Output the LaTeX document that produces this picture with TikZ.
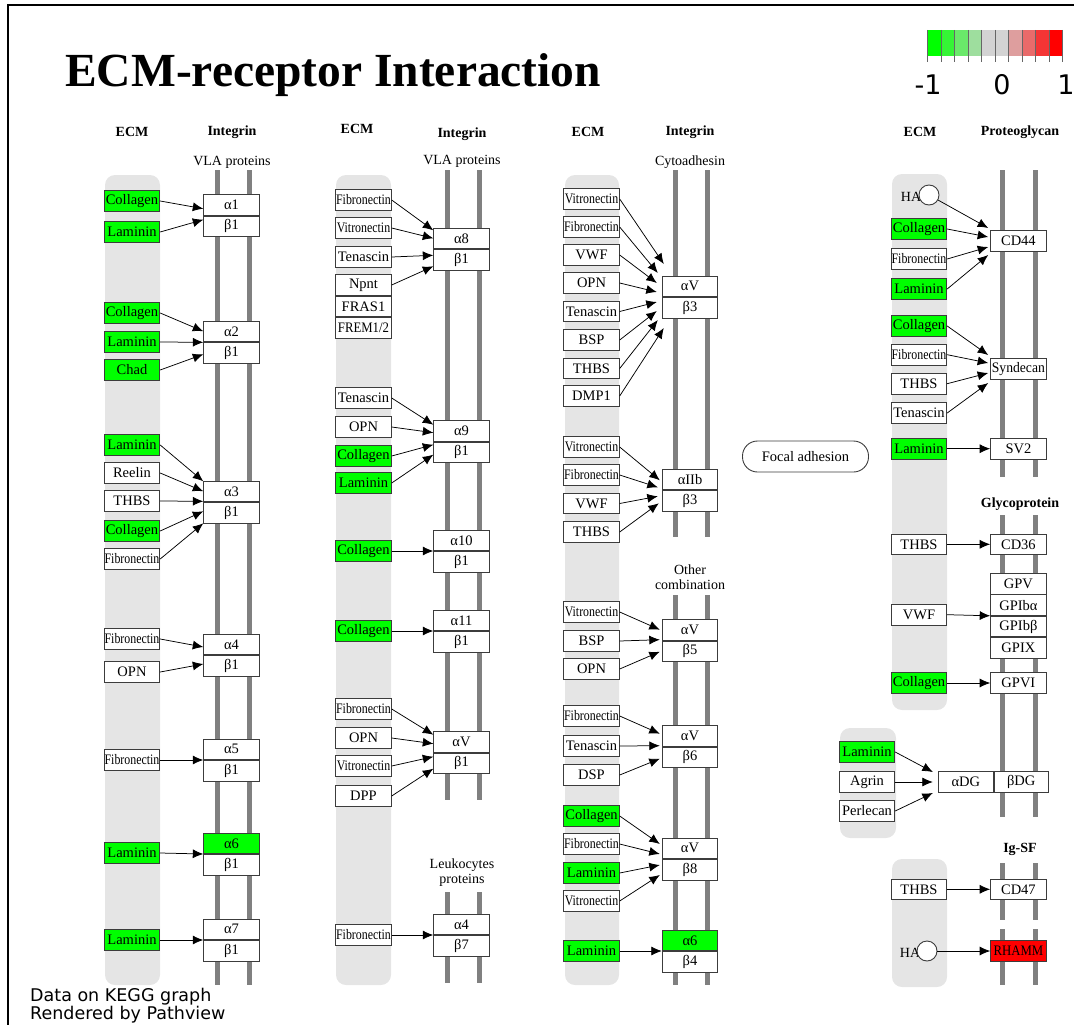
\documentclass[tikz,border=0pt]{standalone}
\usepackage{fontspec}
\setmainfont{Liberation Serif}
\newfontfamily\legendfont{DejaVu Sans}
\usepackage{graphicx}
\usetikzlibrary{positioning,arrows.meta,shapes.geometric}
\definecolor{bandgray}{RGB}{229,229,229}
\definecolor{membgray}{RGB}{128,128,128}
\definecolor{midgray}{RGB}{211,211,211}
\definecolor{boxline}{RGB}{60,60,60}
\newcommand{\kg}{\fontsize{14.5}{15}\selectfont}
\newcommand{\nar}[2][0.82]{\scalebox{#1}[1]{#2}}
\tikzset{
 ecm/.style
  = {rectangle, draw=boxline, line width=0.9pt, fill=white, minimum width=55.5pt,
     minimum height=20.5pt, inner sep=0pt, font=\kg},
 dn/.style
  = {ecm, fill=green},
 uprg/.style
  = {ecm, fill=red},
 intg/.style
  = {ecm},
 head/.style
  = {font=\fontsize{14}{14}\selectfont\bfseries, inner sep=0pt},
 sub/.style
  = {font=\fontsize{14}{15}\selectfont, inner sep=0pt},
 band/.style
  = {fill=bandgray, rounded corners=10pt},
 memb/.style
  = {draw=membgray, line width=5pt},
 arrow/.style
  = {draw=black, line width=0.75pt, -{Latex[length=10.5pt,width=9pt]}},
 hub/.style
  = {circle, draw=boxline, line width=0.9pt, fill=white, minimum size=20pt, inner sep=0pt},
 legtick/.style
  = {draw=black!60, line width=0.8pt},
}

\begin{document}
\begin{tikzpicture}[x=1pt,y=-1pt]
\useasboundingbox (0,0) rectangle (1074,1025);

% Frame and title
\draw[line width=1.2pt] (8,1025) -- (8,5) -- (1074,5);
\node[anchor=base west, inner sep=0pt, font=\fontsize{47.5}{47.5}\selectfont\bfseries] (title) at (65,86) {ECM-receptor Interaction};

% Colour key
\foreach \c [count=\i from 0] in {green, green!75!midgray, green!50!midgray, green!25!midgray, midgray, midgray, red!25!midgray, red!50!midgray, red!75!midgray, red}
  \fill[\c] (927.5+13.5*\i,30) rectangle ++(13.5,26);
\foreach \i in {0,...,10}
  \draw[legtick] (927.5+13.5*\i,30) -- ++(0,32);
\node[font=\legendfont\fontsize{27}{27}\selectfont] (kmin) at (928,85) {-1};
\node[font=\legendfont\fontsize{27}{27}\selectfont] (kmid) at (1002,85) {0};
\node[font=\legendfont\fontsize{27}{27}\selectfont] (kmax) at (1066,85) {1};

% Footer
\node[anchor=west, inner sep=0pt, font=\legendfont\fontsize{17.5}{17.5}\selectfont] (foot1) at (30,997) {Data on KEGG graph};
\node[anchor=west, inner sep=0pt, font=\legendfont\fontsize{17.5}{17.5}\selectfont] (foot2) at (30,1015) {Rendered by Pathview};

% Panel 1: VLA proteins
\fill[band] (105,175) rectangle (160,985);
\draw[memb] (217,170) -- (217,985);
\draw[memb] (249,170) -- (249,985);
\node[head] (h1e) at (132,132) {ECM};
\node[head] (h1i) at (232,132) {Integrin};
\node[sub] (vla1) at (232,162) {VLA proteins};

\node[dn] (c1a) at (132,201) {Collagen};
\node[dn] (c1b) at (132,232) {Laminin};
\node[dn] (c1c) at (132,313) {Collagen};
\node[dn] (c1d) at (132,342) {Laminin};
\node[dn] (c1e) at (132,370) {Chad};
\node[dn] (c1f) at (132,445) {Laminin};
\node[ecm] (c1g) at (132,473) {Reelin};
\node[ecm] (c1h) at (132,501) {THBS};
\node[dn] (c1i) at (132,531) {Collagen};
\node[ecm] (c1j) at (132,559) {\nar{Fibronectin}};
\node[ecm] (c1k) at (132,639) {\nar{Fibronectin}};
\node[ecm] (c1l) at (132,672) {OPN};
\node[ecm] (c1m) at (132,760) {\nar{Fibronectin}};
\node[dn] (c1n) at (132,853) {Laminin};
\node[dn] (c1o) at (132,940) {Laminin};

\node[intg, anchor=south] (al11) at (231.5,215.7) {α1};
\node[intg, below=0pt of al11] (be11) {β1};
\node[intg, anchor=south] (al21) at (231.5,342.3) {α2};
\node[intg, below=0pt of al21] (be21) {β1};
\node[intg, anchor=south] (al31) at (231.5,502.3) {α3};
\node[intg, below=0pt of al31] (be31) {β1};
\node[intg, anchor=south] (al41) at (231.5,655) {α4};
\node[intg, below=0pt of al41] (be41) {β1};
\node[intg, anchor=south] (al51) at (231.5,760) {α5};
\node[intg, below=0pt of al51] (be51) {β1};
\node[dn, anchor=south] (al61) at (231.5,854) {α6};
\node[intg, below=0pt of al61] (be61) {β1};
\node[intg, anchor=south] (al71) at (231.5,940) {α7};
\node[intg, below=0pt of al71] (be71) {β1};

\foreach \s/\t/\dy in {c1a/al11/7, c1b/al11/-4, c1c/al21/11, c1d/al21/0, c1e/al21/-12,
    c1f/al31/21, c1g/al31/11, c1h/al31/1, c1i/al31/-9, c1j/al31/-21,
    c1k/al41/8, c1l/al41/-9, c1m/al51/0, c1n/al61/0, c1o/al71/0}
  \draw[arrow] (\s.east) -- ([yshift=\dy pt]\t.south west);

% Panel 2: VLA proteins, leukocytes proteins
\fill[band] (336,175) rectangle (391,985);
\draw[memb] (447,170) -- (447,800);
\draw[memb] (479,170) -- (479,800);
\draw[memb] (447,892) -- (447,983);
\draw[memb] (479,892) -- (479,983);
\node[head] (h2e) at (357,129) {ECM};
\node[head] (h2i) at (462,134) {Integrin};
\node[sub] (vla2) at (462,161) {VLA proteins};
\node[sub, align=center] (leuk) at (462,873) {Leukocytes\\proteins};

\node[ecm] (c2a) at (363.5,200) {\nar{Fibronectin}};
\node[ecm] (c2b) at (363.5,228) {\nar{Vitronectin}};
\node[ecm] (c2c) at (363.5,257) {Tenascin};
\node[ecm] (c2d) at (363.5,285) {Npnt};
\node[ecm, below=0pt of c2d] (c2e) {FRAS1};
\node[ecm, below=0pt of c2e] (c2f) {\nar[0.88]{FREM1/2}};
\node[ecm] (c2g) at (363.5,398) {Tenascin};
\node[ecm] (c2h) at (363.5,427) {OPN};
\node[dn] (c2i) at (363.5,456) {Collagen};
\node[dn] (c2j) at (363.5,483) {Laminin};
\node[dn] (c2k) at (363.5,551) {Collagen};
\node[dn] (c2l) at (363.5,631) {Collagen};
\node[ecm] (c2m) at (363.5,709) {\nar{Fibronectin}};
\node[ecm] (c2n) at (363.5,738) {OPN};
\node[ecm] (c2o) at (363.5,766) {\nar{Vitronectin}};
\node[ecm] (c2p) at (363.5,796) {DPP};
\node[ecm] (c2q) at (363.5,935) {\nar{Fibronectin}};

\node[intg, anchor=south] (al81) at (461.5,249.3) {α8};
\node[intg, below=0pt of al81] (be81) {β1};
\node[intg, anchor=south] (al91) at (461.5,441.7) {α9};
\node[intg, below=0pt of al91] (be91) {β1};
\node[intg, anchor=south] (al101) at (461.5,551) {α10};
\node[intg, below=0pt of al101] (be101) {β1};
\node[intg, anchor=south] (al111) at (461.5,631) {α11};
\node[intg, below=0pt of al111] (be111) {β1};
\node[intg, anchor=south] (alV1) at (461.5,752.7) {αV};
\node[intg, below=0pt of alV1] (beV1) {β1};
\node[intg, anchor=south] (al47) at (461.5,935) {α4};
\node[intg, below=0pt of al47] (be47) {β7};

\foreach \s/\t/\dy in {c2a/al81/19, c2b/al81/11, c2c/al81/-6, c2d/al81/-17,
    c2g/al91/17, c2h/al91/9, c2i/al91/-3, c2j/al91/-13, c2k/al101/0, c2l/al111/0,
    c2m/alV1/18, c2n/alV1/9, c2o/alV1/-4, c2p/alV1/-16, c2q/al47/0}
  \draw[arrow] (\s.east) -- ([yshift=\dy pt]\t.south west);

% Panel 3: cytoadhesin, other combination
\fill[band] (565,175) rectangle (619,985);
\draw[memb] (675,170) -- (675,537);
\draw[memb] (707,170) -- (707,537);
\draw[memb] (675,595) -- (675,985);
\draw[memb] (707,595) -- (707,985);
\node[head] (h3e) at (588,132) {ECM};
\node[head] (h3i) at (690,132) {Integrin};
\node[sub] (cyto) at (690,162) {Cytoadhesin};
\node[sub, align=center] (other) at (690,577) {Other\\combination};

\node[ecm] (c3a) at (591.5,199) {\nar{Vitronectin}};
\node[ecm] (c3b) at (591.5,227) {\nar{Fibronectin}};
\node[ecm] (c3c) at (591.5,255) {VWF};
\node[ecm] (c3d) at (591.5,283) {OPN};
\node[ecm] (c3e) at (591.5,311.5) {Tenascin};
\node[ecm] (c3f) at (591.5,340) {BSP};
\node[ecm] (c3g) at (591.5,368.5) {THBS};
\node[ecm] (c3h) at (591.5,396) {DMP1};
\node[ecm] (c3i) at (591.5,447) {\nar{Vitronectin}};
\node[ecm] (c3j) at (591.5,475) {\nar{Fibronectin}};
\node[ecm] (c3k) at (591.5,503.5) {VWF};
\node[ecm] (c3l) at (591.5,532) {THBS};
\node[ecm] (c3m) at (591.5,612) {\nar{Vitronectin}};
\node[ecm] (c3n) at (591.5,641) {BSP};
\node[ecm] (c3o) at (591.5,669) {OPN};
\node[ecm] (c3p) at (591.5,716) {\nar{Fibronectin}};
\node[ecm] (c3q) at (591.5,746) {Tenascin};
\node[ecm] (c3r) at (591.5,775) {DSP};
\node[dn] (c3s) at (591.5,816) {Collagen};
\node[ecm] (c3t) at (591.5,844) {\nar{Fibronectin}};
\node[dn] (c3u) at (591.5,873) {Laminin};
\node[ecm] (c3v) at (591.5,901) {\nar{Vitronectin}};
\node[dn] (c3w) at (591.5,951) {Laminin};

\node[intg, anchor=south] (alV3) at (690,297) {αV};
\node[intg, below=0pt of alV3] (beV3) {β3};
\node[intg, anchor=south] (alIIb3) at (690,490.3) {αIIb};
\node[intg, below=0pt of alIIb3] (beIIb3) {β3};
\node[intg, anchor=south] (alV5) at (690,640.7) {αV};
\node[intg, below=0pt of alV5] (beV5) {β5};
\node[intg, anchor=south] (alV6) at (690,746.7) {αV};
\node[intg, below=0pt of alV6] (beV6) {β6};
\node[intg, anchor=south] (alV8) at (690,859) {αV};
\node[intg, below=0pt of alV8] (beV8) {β8};
\node[dn, anchor=south] (al64) at (690,951) {α6};
\node[intg, below=0pt of al64] (be64) {β4};

\foreach \s/\t/\dx/\dy in {c3a/alV3/2/33, c3b/alV3/-4/24, c3c/alV3/-5/14, c3d/alV3/-5/5,
    c3e/alV3/-5/-5, c3f/alV3/-5/-14, c3g/alV3/-4/-23, c3h/alV3/2/-31,
    c3i/alIIb3/-2/10, c3j/alIIb3/-4/3, c3k/alIIb3/-4/-6, c3l/alIIb3/-3/-13,
    c3m/alV5/-2/11, c3n/alV5/-2/1, c3o/alV5/-2/-11,
    c3p/alV6/-2/13, c3q/alV6/-2/1, c3r/alV6/-2/-12,
    c3s/alV8/-2/15, c3t/alV8/-2/5, c3u/alV8/-2/-6, c3v/alV8/-2/-16, c3w/al64/0/0}
  \draw[arrow] (\s.east) -- ([xshift=\dx pt, yshift=\dy pt]\t.south west);

% Focal adhesion link
\node[draw=boxline, line width=0.9pt, rounded corners=15pt, minimum width=126pt,
  minimum height=31pt, font=\kg] (focal) at (805.5,456.5) {Focal adhesion};

% Panel 4: proteoglycan, glycoprotein, Ig-SF
\fill[band] (892,174) rectangle (947,710);
\fill[band] (840,728) rectangle (896,838);
\fill[band] (892,859) rectangle (947,987);
\draw[memb] (1002.5,170) -- (1002.5,477);
\draw[memb] (1035,170) -- (1035,477);
\draw[memb] (1002.5,515) -- (1002.5,817);
\draw[memb] (1035,515) -- (1035,817);
\draw[memb] (1002.5,863) -- (1002.5,920);
\draw[memb] (1035,863) -- (1035,920);
\draw[memb] (1002.5,929) -- (1002.5,985);
\draw[memb] (1035,929) -- (1035,985);
\node[head] (h4e) at (920,132) {ECM};
\node[head] (h4p) at (1020,132) {Proteoglycan};
\node[head] (h4g) at (1020,504) {Glycoprotein};
\node[head] (h4s) at (1020,849) {Ig-SF};

\node[sub] (hatxt1) at (911,197) {HA};
\node[hub] (ha1) at (929,195) {};
\node[dn] (c4a) at (919,229) {Collagen};
\node[ecm] (c4b) at (919,259) {\nar{Fibronectin}};
\node[dn] (c4c) at (919,289) {Laminin};
\node[dn] (c4d) at (919,326) {Collagen};
\node[ecm] (c4e) at (919,354.7) {\nar{Fibronectin}};
\node[ecm] (c4f) at (919,383.7) {THBS};
\node[ecm] (c4g) at (919,413) {Tenascin};
\node[dn] (c4h) at (919,448.7) {Laminin};
\node[ecm] (c4i) at (919,544.3) {THBS};
\node[ecm] (c4j) at (919,614.7) {VWF};
\node[dn] (c4k) at (919,683) {Collagen};
\node[dn] (c4l) at (867,752) {Laminin};
\node[ecm] (c4m) at (867,782) {Agrin};
\node[ecm] (c4n) at (867,811) {Perlecan};
\node[ecm] (c4o) at (919,889.3) {THBS};
\node[sub] (hatxt2) at (910,953) {HA};
\node[hub] (ha2) at (927,951) {};

\node[ecm] (cd44) at (1018.4,241) {CD44};
\node[ecm] (synd) at (1018.4,369) {\nar[0.94]{Syndecan}};
\node[ecm] (sv2) at (1018.4,448.7) {SV2};
\node[ecm] (cd36) at (1018.4,544.3) {CD36};
\node[ecm] (gpv) at (1018.4,583.7) {GPV};
\node[ecm, below=0pt of gpv] (gpiba) {GPIbα};
\node[ecm, below=0pt of gpiba] (gpibb) {GPIbβ};
\node[ecm, below=0pt of gpibb] (gpix) {GPIX};
\node[ecm] (gpvi) at (1018.4,683) {GPVI};
\node[ecm, minimum width=55pt] (adg) at (965.8,782) {αDG};
\node[ecm, minimum width=54pt, right=0pt of adg] (bdg) {βDG};
\node[ecm] (cd47) at (1018.4,889.3) {CD47};
\node[uprg] (rhamm) at (1018.4,951) {\nar[0.88]{RHAMM}};

\draw[arrow] (ha1) -- ([xshift=-2pt, yshift=13pt]cd44.west);
\draw[arrow] (c4a.east) -- ([xshift=-2pt, yshift=4pt]cd44.west);
\draw[arrow] (c4b.east) -- ([xshift=-2pt, yshift=-6pt]cd44.west);
\draw[arrow] (c4c.east) -- ([xshift=-2pt, yshift=-14pt]cd44.west);
\draw[arrow] (c4d.east) -- ([xshift=-2pt, yshift=14pt]synd.west);
\draw[arrow] (c4e.east) -- ([xshift=-2pt, yshift=6pt]synd.west);
\draw[arrow] (c4f.east) -- ([xshift=-2pt, yshift=-4pt]synd.west);
\draw[arrow] (c4g.east) -- ([xshift=-2pt, yshift=-14pt]synd.west);
\draw[arrow] (c4h.east) -- (sv2.west);
\draw[arrow] (c4i.east) -- (cd36.west);
\draw[arrow] (c4j.east) -- (gpiba.south west);
\draw[arrow] (c4k.east) -- (gpvi.west);
\draw[arrow] (c4l.east) -- ([xshift=-5pt, yshift=10pt]adg.west);
\draw[arrow] (c4m.east) -- ([xshift=-5pt]adg.west);
\draw[arrow] (c4n.east) -- ([xshift=-5pt, yshift=-11pt]adg.west);
\draw[arrow] (c4o.east) -- (cd47.west);
\draw[arrow] (ha2) -- (rhamm.west);

\end{tikzpicture}
\end{document}
